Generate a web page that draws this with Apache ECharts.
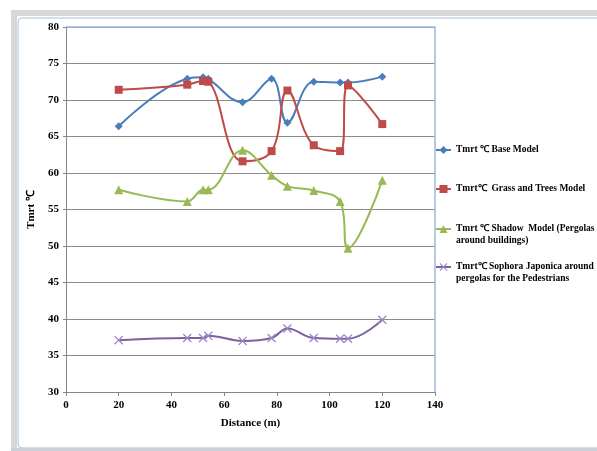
<!DOCTYPE html>
<html>
<head>
<meta charset="utf-8">
<script src="https://cdn.jsdelivr.net/npm/echarts@6/dist/echarts.min.js"></script>
<style>
  html, body { margin: 0; padding: 0; background: #ffffff; }
  #chart { width: 597px; height: 451px; }
</style>
</head>
<body>
<div id="chart"></div>
<script>
// Distance along the street (m)
const distance = [20, 46, 52, 54, 67, 78, 84, 94, 104, 107, 120];

// Mean radiant temperature (°C) for each scenario
const baseModel     = [66.4, 72.9, 73.1, 72.9, 69.7, 72.9, 66.9, 72.5, 72.4, 72.4, 73.2];
const grassTrees    = [71.4, 72.1, 72.6, 72.5, 61.6, 63.0, 71.3, 63.8, 63.0, 72.0, 66.7];
const shadowModel   = [57.7, 56.1, 57.7, 57.7, 63.1, 59.7, 58.2, 57.6, 56.1, 49.7, 59.0];
const sophora       = [37.1, 37.4, 37.4, 37.7, 37.0, 37.4, 38.7, 37.4, 37.3, 37.3, 39.9];

const seriesNames = [
  'Tmrt ℃ Base Model',
  'Tmrt℃  Grass and Trees Model',
  'Tmrt ℃ Shadow  Model (Pergolas\naround buildings)',
  'Tmrt℃ Sophora Japonica around\npergolas for the Pedestrians'
];

const xTicks = { min: 0, max: 140, interval: 20 };
const yTicks = { min: 30, max: 80, interval: 5 };

const colors = ['#4A7EBB', '#BE4B48', '#98B954', '#7D60A0'];
const crossPath = 'path://M0,1L1,0L5,4L9,0L10,1L6,5L10,9L9,10L5,6L1,10L0,9L4,5Z';

function pairs(ys) { return distance.map((x, i) => [x, ys[i]]); }

const serif = '"Liberation Serif", "Times New Roman", serif';

const chart = echarts.init(document.getElementById('chart'), null, { renderer: 'canvas' });

// One legend block per series; two-line entries get a leading blank line so
// the key symbol sits beside the first line of text.
const legendTops = [144, 183, 211, 249];
const legends = seriesNames.map((n, i) => ({
  data: [n],
  left: 435,
  top: legendTops[i],
  orient: 'vertical',
  itemWidth: 15,
  itemHeight: 10,
  itemGap: 0,
  padding: 0,
  formatter: (name) => (name.indexOf('\n') >= 0 ? '\n' + name : name),
  textStyle: { fontFamily: serif, fontWeight: 'bold', fontSize: 9.5, color: '#000', lineHeight: 12 },
  selectedMode: false
}));

const series = [
  { data: pairs(baseModel), symbol: 'diamond', symbolSize: 8 },
  { data: pairs(grassTrees), symbol: 'rect', symbolSize: 8 },
  { data: pairs(shadowModel), symbol: 'triangle', symbolSize: 9 },
  { data: pairs(sophora), symbol: crossPath, symbolSize: 9 }
].map((s, i) => ({
  name: seriesNames[i],
  type: 'line',
  smooth: 0.4,
  data: s.data,
  symbol: s.symbol,
  symbolSize: s.symbolSize,
  showSymbol: true,
  lineStyle: { color: colors[i], width: 2 },
  itemStyle: { color: i === 3 ? '#9b88c2' : colors[i] },
  emphasis: { disabled: true },
  z: 3
}));

chart.setOption({
  animation: false,
  backgroundColor: '#ffffff',
  color: colors,
  graphic: [
    // surrounding window frame
    { type: 'rect', shape: { x: 11, y: 10, width: 600, height: 6 }, style: { fill: '#d6d8db' }, silent: true },
    { type: 'rect', shape: { x: 11, y: 10, width: 6, height: 445 }, style: { fill: '#d6d8db' }, silent: true },
    { type: 'rect', shape: { x: 18, y: 18, width: 600, height: 430, r: 4 },
      style: { fill: '#ffffff', stroke: '#a9c0dc', lineWidth: 1 }, silent: true, z: -1 },
    { type: 'rect', shape: { x: 11, y: 448, width: 600, height: 3 }, style: { fill: '#c9d0d8' }, silent: true },
    // plot area border (top and right)
    { type: 'polyline', shape: { points: [[66, 27], [435, 27], [435, 392]] },
      style: { stroke: '#9db9db', lineWidth: 1.5, fill: null }, silent: true, z: 2 }
  ],
  legend: legends,
  grid: { left: 66, right: 162, top: 27, bottom: 59, containLabel: false },
  xAxis: {
    type: 'value',
    min: xTicks.min, max: xTicks.max, interval: xTicks.interval,
    name: 'Distance (m)',
    nameLocation: 'middle',
    nameGap: 26,
    nameTextStyle: { fontFamily: serif, fontWeight: 'bold', fontSize: 11, color: '#000' },
    axisLine: { show: true, lineStyle: { color: '#868686', width: 1 } },
    axisTick: { show: true, length: 4, lineStyle: { color: '#868686' } },
    axisLabel: { fontFamily: serif, fontWeight: 'bold', fontSize: 11, color: '#000', margin: 8 },
    splitLine: { show: false }
  },
  yAxis: {
    type: 'value',
    min: yTicks.min, max: yTicks.max, interval: yTicks.interval,
    name: 'Tmrt ℃',
    nameLocation: 'middle',
    nameGap: 23,
    nameTextStyle: { fontFamily: serif, fontWeight: 'bold', fontSize: 11, color: '#000' },
    axisLine: { show: true, lineStyle: { color: '#868686', width: 1 } },
    axisTick: { show: true, length: 3, inside: false, lineStyle: { color: '#868686' } },
    axisLabel: { fontFamily: serif, fontWeight: 'bold', fontSize: 11, color: '#000', margin: 7 },
    splitLine: { show: true, lineStyle: { color: '#8c8c8c', width: 1 } }
  },
  series: series
});
</script>
</body>
</html>
